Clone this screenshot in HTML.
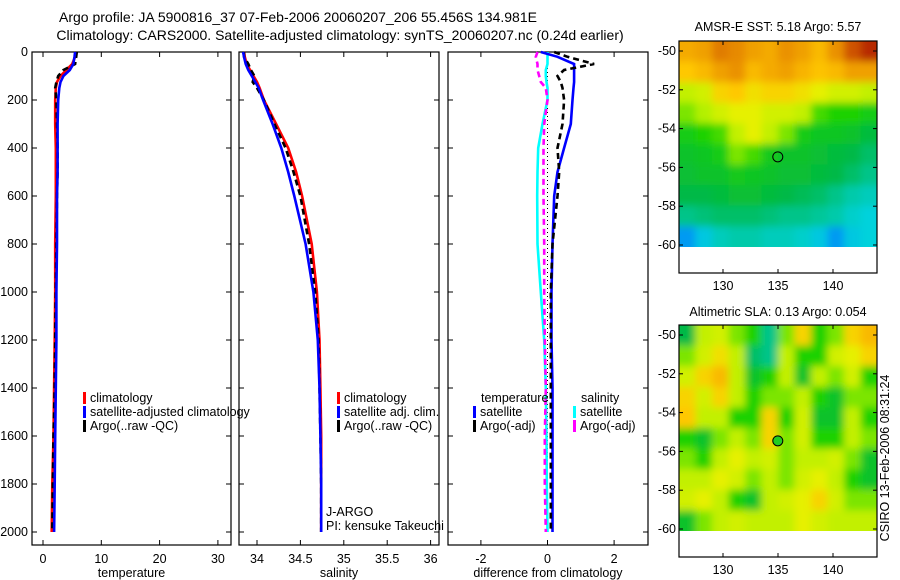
<!DOCTYPE html>
<html><head><meta charset="utf-8"><style>
html,body{margin:0;padding:0;background:#fff;}
svg{display:block;font-family:"Liberation Sans",sans-serif;}
text{font-size:12.5px;fill:#000;}
</style></head><body>
<svg id="chart" width="900" height="580" viewBox="0 0 900 580" xmlns="http://www.w3.org/2000/svg">
<defs>
<filter id="blur" x="-5%" y="-5%" width="110%" height="110%"><feGaussianBlur stdDeviation="4"/></filter>
<clipPath id="clip1"><rect x="679" y="41" width="198" height="206"/></clipPath>
<clipPath id="clip2"><rect x="679" y="325" width="198" height="206"/></clipPath>
</defs>
<text x="298" y="22" text-anchor="middle" style="font-size:14px">Argo profile: JA 5900816_37 07-Feb-2006 20060207_206 55.456S 134.981E</text>
<text x="340" y="40" text-anchor="middle" style="font-size:14px">Climatology: CARS2000. Satellite-adjusted climatology: synTS_20060207.nc (0.24d earlier)</text>
<text x="778" y="31" text-anchor="middle">AMSR-E SST: 5.18 Argo: 5.57</text>
<text x="778" y="316" text-anchor="middle">Altimetric SLA: 0.13 Argo: 0.054</text>
<text transform="translate(889,458) rotate(-90)" text-anchor="middle">CSIRO 13-Feb-2006 08:31:24</text>
<g id="g"></g>
</svg>
<script>
// ---- data ----
const depths = [0,20,50,75,100,125,150,200,300,400,500,600,800,1000,1200,1400,1600,1800,2000];
const depthTicks = [0,200,400,600,800,1000,1200,1400,1600,1800,2000];
const tempClim = [5.6,5.5,5.0,4.0,3.0,2.4,2.2,2.1,2.1,2.2,2.2,2.2,2.1,2.1,2.0,1.9,1.8,1.6,1.5];
const tempSat  = [5.5,5.4,5.2,4.6,3.5,3.0,2.8,2.6,2.5,2.5,2.5,2.4,2.4,2.3,2.3,2.2,2.1,2.0,1.9];
const tempArgo = [5.8,5.7,5.5,3.5,2.6,2.3,2.1,2.3,2.4,2.5,2.5,2.4,2.3,2.2,2.1,2.0,1.8,1.7,1.6];
const tempTicks = [0,10,20,30];
const salClim = [33.85,33.86,33.88,33.92,33.96,34.0,34.03,34.08,34.22,34.36,34.45,34.52,34.63,34.69,34.72,34.73,34.74,34.74,34.74];
const salSat  = [33.84,33.85,33.87,33.9,33.94,33.98,34.02,34.07,34.18,34.28,34.36,34.43,34.56,34.65,34.70,34.72,34.73,34.74,34.74];
const salArgo = [33.85,33.85,33.9,33.93,33.97,33.95,34.0,34.08,34.2,34.33,34.42,34.5,34.6,34.67,34.71,34.72,34.73,34.74,34.74];
const salTicks = [34,34.5,35,35.5,36];
const dTempSat  = [-0.2,0.3,0.8,0.8,0.8,0.8,0.78,0.75,0.7,0.5,0.3,0.2,0.15,0.12,0.12,0.15,0.15,0.15,0.15];
const dTempArgo = [0.2,0.6,1.4,0.5,0.3,0.4,0.45,0.5,0.45,0.3,0.35,0.3,0.15,0.1,0.1,0.1,0.1,0.1,0.1];
const dSalSat   = [0,0,0,-0.05,-0.05,-0.03,0,0,-0.15,-0.28,-0.3,-0.31,-0.3,-0.2,-0.1,-0.05,-0.03,-0.02,0];
const dSalArgo  = [-0.3,-0.35,-0.3,-0.3,-0.25,-0.2,-0.05,0,-0.1,-0.12,-0.12,-0.12,-0.1,-0.1,-0.08,-0.05,-0.08,-0.08,-0.05];
const diffTicks = [-2,0,2];
const lonTicks = [130,135,140];
const latTicks = [-50,-52,-54,-56,-58,-60];
const sstGrid = [
[0.78,0.8,0.85,0.83,0.8,0.78,0.82,0.8,0.75,0.82,0.9,0.95],
[0.72,0.75,0.8,0.82,0.75,0.78,0.8,0.76,0.73,0.75,0.8,0.8],
[0.6,0.62,0.7,0.72,0.68,0.7,0.7,0.68,0.65,0.62,0.62,0.6],
[0.55,0.58,0.62,0.65,0.65,0.62,0.62,0.6,0.52,0.5,0.5,0.48],
[0.48,0.5,0.52,0.6,0.65,0.6,0.55,0.48,0.46,0.46,0.45,0.43],
[0.45,0.46,0.48,0.55,0.52,0.47,0.45,0.45,0.44,0.43,0.42,0.4],
[0.44,0.45,0.45,0.47,0.46,0.45,0.44,0.44,0.43,0.42,0.4,0.38],
[0.42,0.42,0.43,0.44,0.44,0.43,0.42,0.41,0.40,0.38,0.36,0.35],
[0.38,0.39,0.40,0.40,0.40,0.39,0.38,0.38,0.37,0.36,0.34,0.33],
[0.28,0.32,0.35,0.36,0.36,0.35,0.35,0.34,0.32,0.28,0.32,0.33]];
const slaGrid = [
[0.42,0.6,0.62,0.55,0.5,0.38,0.55,0.7,0.5,0.55,0.7,0.75],
[0.55,0.62,0.68,0.6,0.4,0.38,0.6,0.5,0.5,0.62,0.65,0.7],
[0.62,0.7,0.75,0.6,0.45,0.5,0.6,0.45,0.6,0.55,0.62,0.5],
[0.7,0.62,0.7,0.6,0.5,0.55,0.55,0.6,0.5,0.45,0.55,0.55],
[0.72,0.6,0.6,0.5,0.5,0.7,0.5,0.62,0.45,0.45,0.6,0.5],
[0.5,0.45,0.55,0.6,0.55,0.7,0.55,0.62,0.5,0.5,0.6,0.55],
[0.55,0.5,0.6,0.65,0.6,0.62,0.55,0.6,0.6,0.62,0.55,0.45],
[0.6,0.6,0.65,0.62,0.55,0.6,0.55,0.62,0.65,0.6,0.5,0.45],
[0.62,0.65,0.6,0.5,0.45,0.6,0.62,0.65,0.7,0.62,0.55,0.55],
[0.45,0.55,0.6,0.62,0.6,0.6,0.6,0.65,0.62,0.6,0.6,0.6]];
const floatLon = 134.981, floatLat = -55.456;

const NS='http://www.w3.org/2000/svg';
const G=document.getElementById('g');
function mk(tag,attrs,parent){const e=document.createElementNS(NS,tag);for(const k in attrs)e.setAttribute(k,attrs[k]);(parent||G).appendChild(e);return e;}
function txt(x,y,s,anchor,parent){const t=mk('text',{x:x,y:y,'text-anchor':anchor||'start'},parent);t.textContent=s;return t;}

const yD = d => 52 + d*0.24;
const xT = v => 43 + v*5.83;
const xS = v => 257 + (v-34)*86.8;
const xDf = v => 547.5 + v*33.3;

function panel(name,x0,x1,xf,ticks,label,showDepth){
  const p=mk('g',{});
  
  
  const r=mk('rect',{x:x0,y:52,width:x1-x0,height:493,fill:'none',stroke:'#000','stroke-width':1.2},p);
  
  
  ticks.forEach(t=>{const x=xf(t);
    mk('line',{x1:x,x2:x,y1:52,y2:57,stroke:'#000'},p);
    mk('line',{x1:x,x2:x,y1:540,y2:545,stroke:'#000'},p);
    const l=txt(x,563,String(t),'middle',p);
    
    
  });
  depthTicks.forEach(d=>{const y=yD(d);
    mk('line',{x1:x0,x2:x0+5,y1:y,y2:y,stroke:'#000'},p);
    mk('line',{x1:x1-5,x2:x1,y1:y,y2:y,stroke:'#000'},p);
    if(showDepth){const l=txt(28,y+4,String(d),'end',p);
      
      }
  });
  const xl=txt((x0+x1)/2,577,label,'middle',p);
  
  
  return p;
}
function series(name,vals,xf,color,dash,p){
  const pts=vals.map((v,i)=>xf(v).toFixed(1)+','+yD(depths[i]).toFixed(1)).join(' ');
  const l=mk('polyline',{points:pts,fill:'none',stroke:color,'stroke-width':2.6,'stroke-dasharray':dash||'none'},p);
  
  
}
function legend(p,x,y,color,label){
  const g=mk('g',{},p);
  
  
  mk('rect',{x:x,y:y-10,width:3,height:12,fill:color},g);
  txt(x+7,y,label,'start',g);
}
const p1=panel('temperature-panel',32,231,xT,tempTicks,'temperature',true);
series('temp-climatology-line',tempClim,xT,'#f00',null,p1);
series('temp-argo-line',tempArgo,xT,'#000','6,4',p1);
series('temp-satellite-line',tempSat,xT,'#00f',null,p1);
legend(p1,83,402,'#f00','climatology');
legend(p1,83,416,'#00f','satellite-adjusted climatology');
legend(p1,83,430,'#000','Argo(..raw -QC)');
const p2=panel('salinity-panel',239,439,xS,salTicks,'salinity',false);
series('sal-climatology-line',salClim,xS,'#f00',null,p2);
series('sal-argo-line',salArgo,xS,'#000','6,4',p2);
series('sal-satellite-line',salSat,xS,'#00f',null,p2);
legend(p2,337,402,'#f00','climatology');
legend(p2,337,416,'#00f','satellite adj. clim.');
legend(p2,337,430,'#000','Argo(..raw -QC)');
txt(326,516,'J-ARGO','start',p2);
txt(326,530,'PI: kensuke Takeuchi','start',p2);
const p3=panel('difference-panel',448,648,xDf,diffTicks,'difference from climatology',false);
mk('line',{x1:xDf(0),x2:xDf(0),y1:yD(0),y2:yD(2000),stroke:'#000','stroke-dasharray':'1,3'},p3);
series('dsal-satellite-line',dSalSat,xDf,'#0ff',null,p3);
series('dsal-argo-line',dSalArgo,xDf,'#f0f','6,4',p3);
series('dtemp-satellite-line',dTempSat,xDf,'#00f',null,p3);
series('dtemp-argo-line',dTempArgo,xDf,'#000','6,4',p3);
txt(481,402,'temperature','start',p3);
txt(581,402,'salinity','start',p3);
legend(p3,473,416,'#00f','satellite');
legend(p3,473,430,'#000','Argo(-adj)');
legend(p3,573,416,'#0ff','satellite');
legend(p3,573,430,'#f0f','Argo(-adj)');

const cmapStops=[[0,0,0,200],[0.25,0,120,255],[0.33,0,210,220],[0.42,0,185,70],[0.5,30,210,0],[0.58,180,240,0],[0.65,230,240,0],[0.72,255,200,0],[0.8,240,160,0],[0.88,215,100,0],[1,160,0,0]];
function cmap(v){
  v=Math.max(0,Math.min(1,v));
  for(let i=1;i<cmapStops.length;i++){const a=cmapStops[i-1],b=cmapStops[i];
    if(v<=b[0]){const f=(v-a[0])/(b[0]-a[0]);
      return 'rgb('+[1,2,3].map(k=>Math.round(a[k]+f*(b[k]-a[k]))).join(',')+')';}}
  return 'rgb(160,0,0)';
}
function map(name,top,grid,clip){
  const X0=679,X1=877,bottom=top+232;
  const yL=lat=>top+10+(-50-lat)*19.4;
  const xL=lon=>723+(lon-130)*11;
  const dataBottom=yL(-60)+2;
  const p=mk('g',{});
  
  
  const cg=mk('g',{'clip-path':'url(#'+clip+')'},p);
  const bg=mk('g',{filter:'url(#blur)'},cg);
  const rows=grid.length, cols=grid[0].length;
  const cw=(X1-X0)/cols, ch=(dataBottom-top)/rows;
  grid.forEach((row,i)=>row.forEach((v,j)=>{
    let x=X0+j*cw, y=top+i*ch, w=cw+0.6, h=ch+0.6;
    if(j===0){x-=8;w+=8;} if(j===cols-1){w+=8;}
    if(i===0){y-=8;h+=8;} if(i===rows-1){h+=8;}
    const c=mk('rect',{x:x.toFixed(2),y:y.toFixed(2),width:w.toFixed(2),height:h.toFixed(2),fill:cmap(v)},bg);
    
    
  }));
  const f=mk('rect',{x:X0,y:top,width:X1-X0,height:bottom-top,fill:'none',stroke:'#000','stroke-width':1.2},p);
  
  
  lonTicks.forEach(t=>{const x=xL(t);
    mk('line',{x1:x,x2:x,y1:top,y2:top+4,stroke:'#000'},p);
    mk('line',{x1:x,x2:x,y1:bottom-4,y2:bottom,stroke:'#000'},p);
    txt(x,bottom+17,String(t),'middle',p);});
  latTicks.forEach(t=>{const y=yL(t);
    mk('line',{x1:X0,x2:X0+4,y1:y,y2:y,stroke:'#000'},p);
    mk('line',{x1:X1-4,x2:X1,y1:y,y2:y,stroke:'#000'},p);
    txt(X0-3,y+4,String(t),'end',p);});
  const m=mk('circle',{cx:xL(floatLon),cy:yL(floatLat),r:5,fill:'none',stroke:'#000','stroke-width':1},p);
  
  
  return m;
}
map('sst-map',41,sstGrid,'clip1');
const m2=map('sla-map',325,slaGrid,'clip2');
m2.setAttribute('fill','#2c2');
</script>
</body></html>
